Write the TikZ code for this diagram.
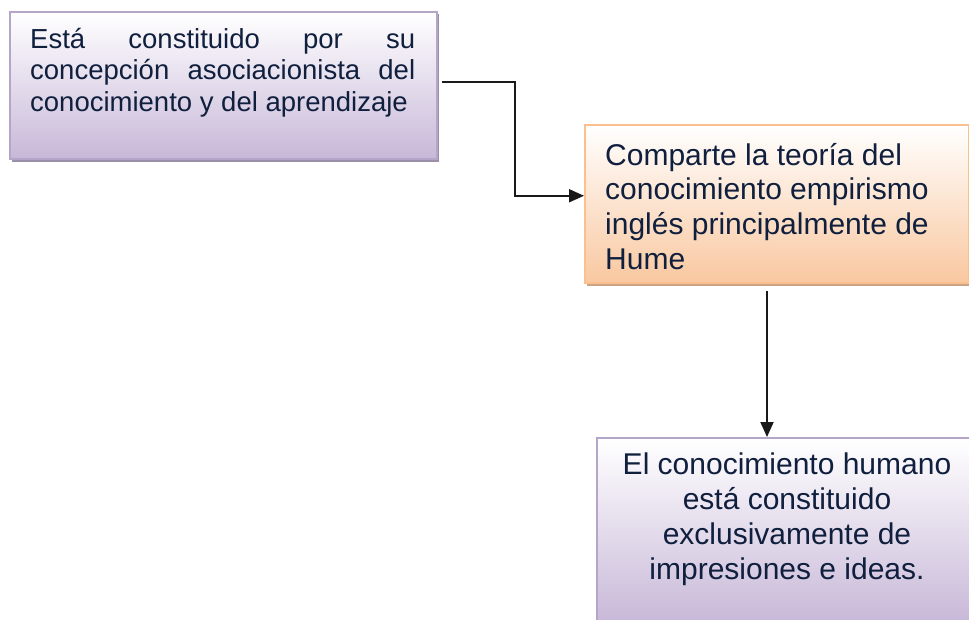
\documentclass[tikz,border=0pt]{standalone}
\usepackage{fontspec}
\setmainfont{Liberation Sans}
\usetikzlibrary{arrows.meta,calc}
\definecolor{txt}{HTML}{0F1F3D}
\definecolor{lavB}{HTML}{B5A5C9}
\definecolor{lavF}{HTML}{C8B8D8}
\definecolor{lavS}{HTML}{9C90A8}
\definecolor{peaB}{HTML}{FBC08E}
\definecolor{peaF}{HTML}{F9C8A0}
\definecolor{peaS}{HTML}{C9A384}
\tikzset{
  lavbox/.style={draw=lavB, line width=1.5pt, top color=white, bottom color=lavF, anchor=north west, inner sep=0pt},
  peabox/.style={draw=peaB, line width=1.5pt, top color=white, bottom color=peaF, anchor=north west, inner sep=0pt},
  boxtext/.style={text=txt, inner sep=0pt, font=\fontsize{30}{34.7}\selectfont},
  conn/.style={draw=black!90, line width=1.9pt, -{Triangle[length=15pt,width=13pt]}}
}
\begin{document}
\begin{tikzpicture}[x=1pt,y=-1pt]
\useasboundingbox (0,0) rectangle (969,619);
% shadows
\fill[lavS] (12,14) rectangle (439,162);
\fill[peaS] (587,127) rectangle (971,286);
% boxes
\node[lavbox, minimum width=427pt, minimum height=147pt] (b1) at (9,11) {};
\node[peabox, minimum width=384pt, minimum height=158pt] (b2) at (584,124) {};
\node[lavbox, minimum width=376pt, minimum height=186pt] (b3) at (596,437) {};
% texts
\node[boxtext, anchor=north west, font=\fontsize{27.5}{31.3}\selectfont, align=left] (t1) at (30,28)
  {\hbox to 385pt{Está\hfill constituido\hfill por\hfill su}\\
   \hbox to 385pt{concepción\hfill asociacionista\hfill del}\\
   conocimiento y del aprendizaje};
\node[boxtext, anchor=north west, align=left] (t2) at (605,143)
  {Comparte la teoría del\\conocimiento empirismo\\inglés principalmente de\\Hume};
\node[boxtext, anchor=north, align=center] (t3) at (787,453)
  {El conocimiento humano\\está constituido\\exclusivamente de\\impresiones e ideas.};
% connectors
\coordinate (c1) at ($(b1.east)+(4,-3)$);
\coordinate (e1) at ($(b2.west)+(0,-8)$);
\draw[conn] (c1) -| ($(c1)!0.5!(e1)+(2,0)$) |- (e1);
\coordinate (c2) at (767,291);
\draw[conn] (c2) -- (c2 |- b3.north);
\end{tikzpicture}
\end{document}
